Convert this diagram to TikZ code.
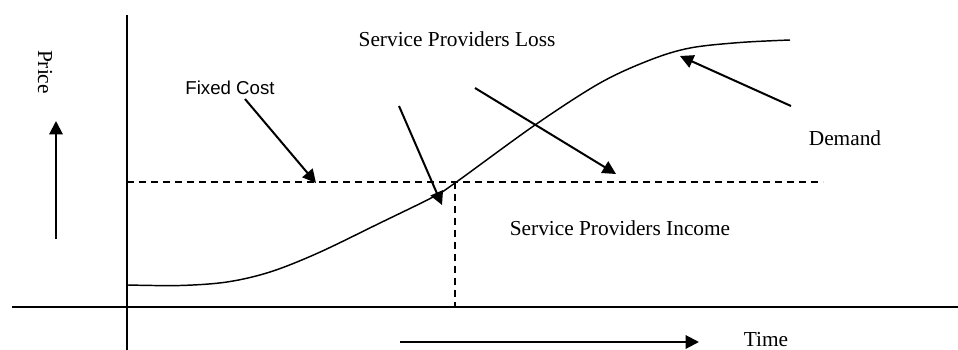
\documentclass[tikz,border=0pt]{standalone}
\usepackage{fontspec}
\setmainfont{Liberation Serif}
\newfontfamily\labsans{Liberation Sans}
\usetikzlibrary{arrows.meta}
\begin{document}
\begin{tikzpicture}[x=0.75pt,y=-0.75pt,
  axis/.style={line width=1.1pt},
  pointer/.style={line width=1.5pt,-{Triangle[length=10pt,width=10pt]}},
  dashline/.style={line width=1.1pt,dash pattern=on 5.25pt off 3.75pt},
  curve/.style={line width=1.1pt},
  lab/.style={font=\fontsize{16}{18}\selectfont,inner sep=0pt},
  sanslab/.style={font=\labsans\fontsize{14}{16}\selectfont,inner sep=0pt}]
\useasboundingbox (0,0) rectangle (958,350);
% axes
\coordinate (vtop) at (127,15);
\coordinate (vbot) at (127,350);
\coordinate (hl) at (12,307);
\coordinate (hr) at (958,307);
\draw[axis] (vtop) -- (vbot);
\draw[axis] (hl) -- (hr);
% dashed lines
\coordinate (dl) at (127,182);
\coordinate (dr) at (823,182);
\coordinate (cross) at (455,182);
\coordinate (crossb) at (455,307);
\draw[dashline] (dl) -- (dr);
\draw[dashline] (cross) -- (crossb);
% demand curve
\draw[curve] plot[smooth,tension=0.55] coordinates {(128,285) (180,285.5) (227,282) (270,272) (318,253) (380,223) (433,197) (455,183) (535,125) (600,83) (650,60) (690,48) (740,42.5) (790,40)};
% labels
\node[lab] (loss) at (457,39) {Service Providers Loss};
\node[lab] (income) at (620,228) {Service Providers Income};
\node[lab] (demand) at (845,138) {Demand};
\node[lab] (time) at (766,340) {Time};
\node[lab,rotate=-90] (price) at (45,72) {Price};
\node[sanslab] (fixed) at (230,88) {Fixed Cost};
% arrows
\coordinate (fa) at (245,99);   \coordinate (fb) at (316,183);
\coordinate (aa) at (399,106);  \coordinate (ab) at (442,205);
\coordinate (ba) at (475,88);   \coordinate (bb) at (616,174);
\coordinate (da) at (791,106);  \coordinate (db) at (680,56);
\coordinate (pa) at (56,239);   \coordinate (pb) at (56,121);
\coordinate (ta) at (400,342);  \coordinate (tb) at (699,342);
\draw[pointer] (fa) -- (fb);
\draw[pointer] (aa) -- (ab);
\draw[pointer] (ba) -- (bb);
\draw[pointer] (da) -- (db);
\draw[pointer] (pa) -- (pb);
\draw[pointer] (ta) -- (tb);
\end{tikzpicture}
\end{document}
